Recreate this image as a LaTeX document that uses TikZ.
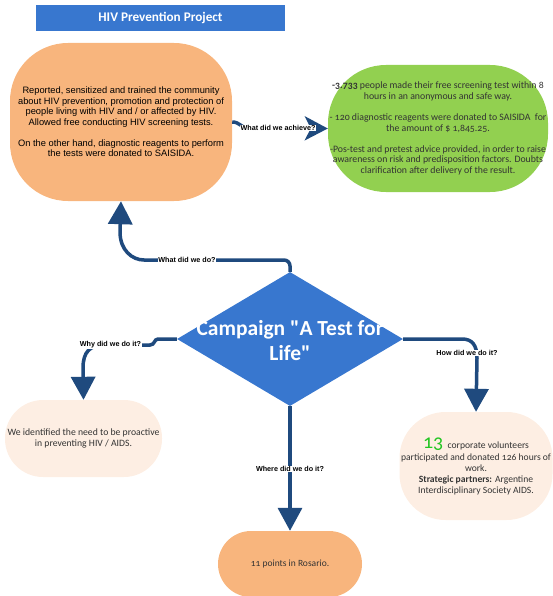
\documentclass[tikz,border=0pt]{standalone}
\usepackage{fontspec}
\setmainfont{Carlito}[Numbers=OldStyle]
\newfontfamily\arialfont{Liberation Sans}
\usetikzlibrary{shapes.geometric,arrows.meta}

\definecolor{hivblue}{HTML}{3877CF}
\definecolor{peach}{HTML}{F8B57D}
\definecolor{lightpeach}{HTML}{FDEEE3}
\definecolor{leaf}{HTML}{92D050}
\definecolor{linkblue}{HTML}{1F4A7E}
\definecolor{inkgray}{HTML}{333333}
\definecolor{brightgreen}{HTML}{22C522}

\begin{document}
\begin{tikzpicture}[x=1pt,y=-1pt,
  blob/.style={rectangle, rounded corners=#1, inner sep=0pt, align=center},
  conn/.style={draw=linkblue, line width=3.5pt, -{Triangle[width=24pt,length=23pt]}},
  lbl/.style={font=\arialfont\bfseries\fontsize{7.2}{8}\selectfont, fill=white, inner sep=0.5pt, text=black},
  body/.style={font=\fontsize{9.8}{10.6}\selectfont, text=inkgray}
]
\clip (0,0) rectangle (553,596);

% title bar
\node[rectangle, fill=hivblue, minimum width=249pt, minimum height=26pt, inner sep=0pt,
      text=white, font=\bfseries\fontsize{13.2}{15}\selectfont] (title) at (160.5,18) {HIV Prevention Project};

% what did we do
\node[blob=58pt, fill=peach, minimum width=222pt, minimum height=158pt,
      font=\arialfont\fontsize{9.3}{10.5}\selectfont, text=black] (do) at (121,122)
  {Reported, sensitized and trained the community\\
   about HIV prevention, promotion and protection of\\
   people living with HIV and / or affected by HIV.\\
   Allowed free conducting HIV screening tests.\\[10.5pt]
   On the other hand, diagnostic reagents to perform\\
   the tests were donated to SAISIDA.};

% what did we achieve
\node[blob=58pt, fill=leaf, minimum width=220pt, minimum height=127pt, body] (ach) at (438,128.5)
  {\textbf{-3.733} people made their free screening test within 8\\
   hours in an anonymous and safe way.\\[10.4pt]
   - 120 diagnostic reagents were donated to SAISIDA\ \ for\\
   the amount of \$ 1,845.25.\\[10.4pt]
   -Pos-test and pretest advice provided, in order to raise\\
   awareness on risk and predisposition factors. Doubts\\
   clarification after delivery of the result.};

% central campaign diamond
\node[diamond, fill=hivblue, minimum width=226pt, minimum height=134pt, inner sep=0pt] (dia) at (290,339) {};
\node[text=white, align=center, font=\bfseries\fontsize{21.5}{25}\selectfont] (diatext) at (290,341)
  {Campaign \textquotedbl A Test for\\ Life\textquotedbl};

% why
\node[blob=38pt, fill=lightpeach, minimum width=157pt, minimum height=77pt,
      font=\fontsize{9.7}{10.5}\selectfont, text=inkgray] (why) at (83.5,438.5)
  {We identified the need to be proactive\\ in preventing HIV / AIDS.};

% how
\node[blob=46pt, fill=lightpeach, minimum width=153pt, minimum height=108pt,
      font=\fontsize{9.6}{11}\selectfont, text=inkgray] (how) at (476,466)
  {{\color{brightgreen}\fontsize{20}{18}\selectfont 13}\ \ corporate volunteers\\[1pt]
   participated and donated 126 hours of\\
   work.\\
   \textbf{Strategic partners:} Argentine\\
   Interdisciplinary Society AIDS.};

% where
\node[blob=33pt, fill=peach, minimum width=144pt, minimum height=66pt,
      font=\fontsize{9.5}{10}\selectfont, text=inkgray] (where) at (290,564) {11 points in Rosario.};

% connectors
\draw[conn, rounded corners=6pt] (dia.north) -- (dia.north |- 0,260) -- (150,260)
   [rounded corners=0pt] .. controls (132,260) and (120,250) .. (120,232) -- (do.south);
\draw[conn] (dia.west) -- (158,339) .. controls (154,339) and (155,345) .. (150,345)
   -- (104,345) .. controls (90,345) and (83,352) .. (83,368) -- (why.north);
\draw[conn] (dia.east) -- (462,339) .. controls (472,339) and (477,345) .. (477,358) -- (how.north);
\draw[conn] (dia.south) -- (where.north);
\draw[draw=linkblue, line width=3.5pt, -{Stealth[width=24pt,length=23pt,inset=6pt]}]
   (do.east) .. controls (240,122) and (241,128) .. (248,128) -- (ach.west);

% connector labels
\node[lbl] (lbldo) at (187,260) {What did we do?};
\node[lbl] (lblwhy) at (110.5,345) {Why did we do it?};
\node[lbl] (lblhow) at (467,353) {How did we do it?};
\node[lbl] (lblwhere) at (290,469) {Where did we do it?};
\node[lbl] (lblach) at (278,128) {What did we achieve?};
\end{tikzpicture}
\end{document}
